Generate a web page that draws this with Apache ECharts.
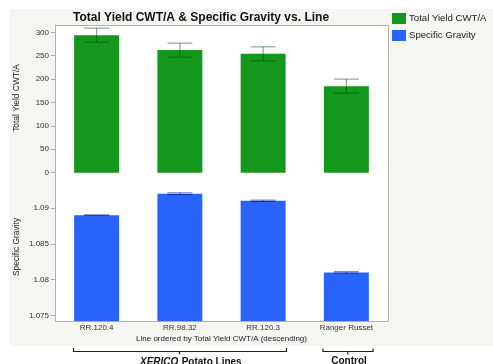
<!DOCTYPE html>
<html>
<head>
<meta charset="utf-8">
<script src="https://cdn.jsdelivr.net/npm/echarts@6/dist/echarts.min.js"></script>
<style>
html,body{margin:0;padding:0;background:#fff;}
#c{width:493px;height:364px;}
</style>
</head>
<body>
<div id="c"></div>
<script>
const categories = ['RR.120.4', 'RR.98.32', 'RR.120.3', 'Ranger Russet'];
const yieldValues = [294, 262, 254, 185];
const yieldErrors = [15, 15, 15, 15];
const gravityValues = [1.089, 1.092, 1.091, 1.081];
const gravityErrors = [0.00003, 0.00012, 0.0001, 0.0001];
const yieldTicks = [0, 50, 100, 150, 200, 250, 300];
const gravityTicks = [1.075, 1.08, 1.085, 1.09];

const FONT = '"Liberation Sans", Arial, Helvetica, sans-serif';
const chart = echarts.init(document.getElementById('c'), null, {renderer: 'canvas'});

function errRender(color, hw) {
  return function (params, api) {
    const i = api.value(0), v = api.value(1), e = api.value(2);
    const hi = api.coord([i, v + e]);
    const lo = api.coord([i, v - e]);
    const st = {stroke: color, lineWidth: 1};
    return {
      type: 'group',
      children: [
        {type: 'line', shape: {x1: hi[0], y1: hi[1], x2: lo[0], y2: lo[1]}, style: st},
        {type: 'line', shape: {x1: hi[0] - hw, y1: hi[1], x2: hi[0] + hw, y2: hi[1]}, style: st},
        {type: 'line', shape: {x1: lo[0] - hw, y1: lo[1], x2: lo[0] + hw, y2: lo[1]}, style: st}
      ]
    };
  };
}

const option = {
  animation: false,
  textStyle: {fontFamily: FONT},
  title: {
    text: 'Total Yield CWT/A & Specific Gravity vs. Line',
    left: 73, top: 12, padding: 0,
    textStyle: {fontSize: 12, fontWeight: 'bold', color: '#111', fontFamily: FONT}
  },
  legend: {
    data: ['Total Yield CWT/A', 'Specific Gravity'],
    orient: 'vertical', left: 392, top: 13, padding: 0,
    itemWidth: 14, itemHeight: 11, itemGap: 6, icon: 'rect',
    textStyle: {fontSize: 9.6, color: '#222', fontFamily: FONT, padding: [0, 0, 0, -2]}
  },
  grid: [
    {left: 55, top: 25, width: 333, height: 161},
    {left: 55, top: 186, width: 333, height: 135}
  ],
  xAxis: [
    {type: 'category', gridIndex: 0, data: categories, show: false},
    {
      type: 'category', gridIndex: 1, data: categories,
      axisLine: {show: false}, axisTick: {show: false},
      axisLabel: {margin: 3, fontSize: 8, color: '#333', interval: 0, fontFamily: FONT},
      name: 'Line ordered by Total Yield CWT/A (descending)',
      nameLocation: 'middle', nameGap: 14,
      nameTextStyle: {fontSize: 8, color: '#222', fontFamily: FONT}
    }
  ],
  yAxis: [
    {
      type: 'value', gridIndex: 0, min: -28.5, max: 315.7,
      splitLine: {show: false},
      axisLine: {show: true, lineStyle: {color: '#a8a8a8'}},
      axisTick: {show: true, length: 4, customValues: yieldTicks, lineStyle: {color: '#aaa'}},
      axisLabel: {customValues: yieldTicks, margin: 6, fontSize: 8, color: '#333', fontFamily: FONT}
    },
    {
      type: 'value', gridIndex: 1, min: 1.07421, max: 1.09307,
      splitLine: {show: false},
      axisLine: {show: true, lineStyle: {color: '#a8a8a8'}},
      axisTick: {show: true, length: 4, customValues: gravityTicks, lineStyle: {color: '#aaa'}},
      axisLabel: {
        customValues: gravityTicks, margin: 6, fontSize: 8, color: '#333', fontFamily: FONT,
        formatter: v => String(+(+v).toFixed(3))
      }
    }
  ],
  graphic: [
    {type: 'rect', z: -10, shape: {x: 10, y: 9, width: 483, height: 337}, style: {fill: '#f5f5f1'}},
    {type: 'rect', z: -5, shape: {x: 55, y: 25, width: 333, height: 296}, style: {fill: '#ffffff'}},
    {type: 'rect', z: 50, shape: {x: 55.5, y: 25.5, width: 333, height: 296}, style: {fill: null, stroke: '#b0b0b0', lineWidth: 1}},
    {type: 'text', z: 50, x: 17, y: 98, rotation: Math.PI / 2,
      style: {text: 'Total Yield CWT/A', fontSize: 8.4, fontFamily: FONT, fill: '#222', align: 'center', verticalAlign: 'middle'}},
    {type: 'text', z: 50, x: 17, y: 247, rotation: Math.PI / 2,
      style: {text: 'Specific Gravity', fontSize: 8.4, fontFamily: FONT, fill: '#222', align: 'center', verticalAlign: 'middle'}},
    {type: 'polyline', z: 50, shape: {points: [[73.5, 348], [73.5, 351.5], [286.5, 351.5], [286.5, 348]]}, style: {stroke: '#222', lineWidth: 1.2, fill: null}},
    {type: 'line', z: 50, shape: {x1: 179.5, y1: 351.5, x2: 179.5, y2: 354.5}, style: {stroke: '#222', lineWidth: 1.2}},
    {type: 'polyline', z: 50, shape: {points: [[323, 348.5], [323, 351.5], [373, 351.5], [373, 348.5]]}, style: {stroke: '#222', lineWidth: 1.2, fill: null}},
    {type: 'line', z: 50, shape: {x1: 347.8, y1: 351.5, x2: 347.8, y2: 354.5}, style: {stroke: '#222', lineWidth: 1.2}},
    {type: 'text', z: 50, x: 140, y: 356,
      style: {text: '{i|XERICO} {b|Potato Lines}', verticalAlign: 'top', align: 'left',
        rich: {
          i: {fontSize: 10, fontWeight: 'bold', fontStyle: 'italic', fontFamily: FONT, fill: '#111'},
          b: {fontSize: 10, fontWeight: 'bold', fontFamily: FONT, fill: '#111'}
        }}},
    {type: 'text', z: 50, x: 349, y: 356,
      style: {text: 'Control', fontSize: 10, fontWeight: 'bold', fontFamily: FONT, fill: '#111', align: 'center', verticalAlign: 'top'}}
  ],
  series: [
    {
      name: 'Total Yield CWT/A', type: 'bar', xAxisIndex: 0, yAxisIndex: 0,
      data: yieldValues, barWidth: '54%', itemStyle: {color: '#13981d'}
    },
    {
      type: 'custom', xAxisIndex: 0, yAxisIndex: 0,
      renderItem: errRender('rgba(0,70,0,0.55)', 12.5),
      data: categories.map((c, i) => [i, yieldValues[i], yieldErrors[i]]),
      encode: {x: 0, y: 1}, z: 5
    },
    {
      name: 'Specific Gravity', type: 'bar', xAxisIndex: 1, yAxisIndex: 1,
      data: gravityValues, barWidth: '54%', itemStyle: {color: '#2864fb'}
    },
    {
      type: 'custom', xAxisIndex: 1, yAxisIndex: 1,
      renderItem: errRender('rgba(0,20,140,0.6)', 12.5),
      data: categories.map((c, i) => [i, gravityValues[i], gravityErrors[i]]),
      encode: {x: 0, y: 1}, z: 5
    }
  ]
};
chart.setOption(option);
</script>
</body>
</html>
